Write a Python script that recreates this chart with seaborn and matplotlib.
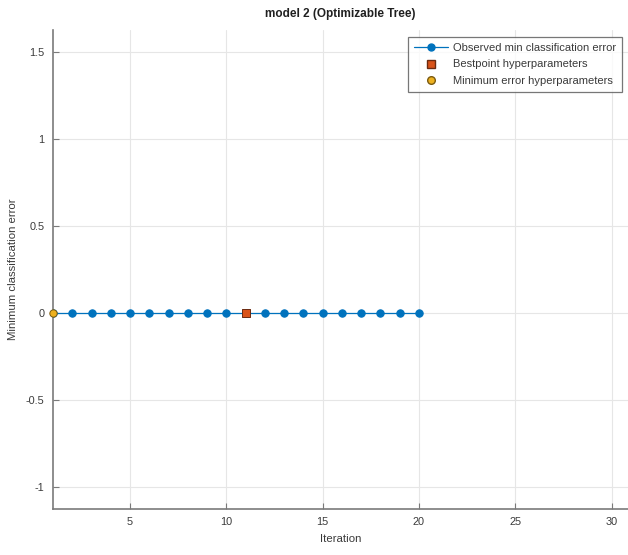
import numpy as np
import pandas as pd
import matplotlib
matplotlib.use("Agg")
import matplotlib.pyplot as plt
import seaborn as sns
from matplotlib.lines import Line2D

# Optimisation trace for model 2
iterations = list(range(1, 21))
min_error = [0.0] * 20
best_iter = [11]
best_error = [0.0]
minerr_iter = [1]
minerr_error = [0.0]
x_ticks = [5, 10, 15, 20, 25, 30]
y_ticks = [-1, -0.5, 0, 0.5, 1, 1.5]

BLUE = "#0072BD"
ORANGE = "#D95319"
YELLOW = "#EDB120"
AXIS_GRAY = "#7a7a7a"
TEXT = "#3a3a3a"

sns.set_theme(style="white")
plt.rcParams["font.family"] = ["Liberation Sans", "DejaVu Sans"]

fig = plt.figure(figsize=(6.28, 5.55), dpi=100)
ax = fig.add_axes([53 / 628, 46 / 555, 1 - 53 / 628, (509 - 30) / 555])

trace = pd.DataFrame({"Iteration": iterations, "Error": min_error})
sns.lineplot(data=trace, x="Iteration", y="Error", ax=ax, color=BLUE,
             linewidth=0.9, marker="o", markersize=5.3, markeredgecolor=BLUE,
             markerfacecolor=BLUE, zorder=3, legend=False)

best = pd.DataFrame({"Iteration": best_iter, "Error": best_error})
sns.scatterplot(data=best, x="Iteration", y="Error", ax=ax, marker="s", s=36,
                color=ORANGE, edgecolor="#6b2a10", linewidth=0.7, zorder=4,
                legend=False)

minerr = pd.DataFrame({"Iteration": minerr_iter, "Error": minerr_error})
sns.scatterplot(data=minerr, x="Iteration", y="Error", ax=ax, marker="o", s=28,
                color=YELLOW, edgecolor="#7a5a10", linewidth=0.7, zorder=5,
                legend=False, clip_on=False)

ax.set_xlim(1, 30.85)
ax.set_ylim(-1.126, 1.626)
ax.set_xticks(x_ticks)
ax.set_yticks(y_ticks)
ax.set_yticklabels(["-1", "-0.5", "0", "0.5", "1", "1.5"])
ax.grid(True, color="#e6e6e6", linewidth=0.8)
ax.set_axisbelow(True)

for side in ["top", "right"]:
    ax.spines[side].set_visible(False)
for side in ["left", "bottom"]:
    ax.spines[side].set_color(AXIS_GRAY)
    ax.spines[side].set_linewidth(1.2)

ax.tick_params(axis="both", direction="in", length=4, width=0.8,
               color=AXIS_GRAY, labelcolor=TEXT, labelsize=7.8, pad=6,
               left=True, bottom=True)

ax.set_xlabel("Iteration", fontsize=8.2, color=TEXT, labelpad=5)
ax.set_ylabel("Minimum classification error", fontsize=8.2, color=TEXT, labelpad=6)
ax.set_title("model 2 (Optimizable Tree)", fontsize=8.5, fontweight="bold",
             color="#202020", pad=9)

handles = [
    Line2D([0], [0], color=BLUE, lw=0.9, marker="o", markersize=5,
           markerfacecolor=BLUE, markeredgecolor=BLUE),
    Line2D([0], [0], color="none", marker="s", markersize=5.5,
           markerfacecolor=ORANGE, markeredgecolor="#6b2a10"),
    Line2D([0], [0], color="none", marker="o", markersize=5.5,
           markerfacecolor=YELLOW, markeredgecolor="#7a5a10"),
]
labels = ["Observed min classification error", "Bestpoint hyperparameters",
          "Minimum error hyperparameters"]
ax_w = 628 - 53
ax_h = 509 - 30
leg = ax.legend(handles, labels, loc="upper right",
                bbox_to_anchor=((622 - 53) / ax_w, (509 - 37) / ax_h),
                fontsize=8, frameon=True, fancybox=False, handlelength=3.1,
                handletextpad=0.45, borderpad=0.5, labelspacing=0.62,
                borderaxespad=0.0)
leg.get_frame().set_edgecolor("#555555")
leg.get_frame().set_linewidth(0.9)
for t in leg.get_texts():
    t.set_color(TEXT)

fig.savefig("out.png", dpi=100, facecolor="white")
